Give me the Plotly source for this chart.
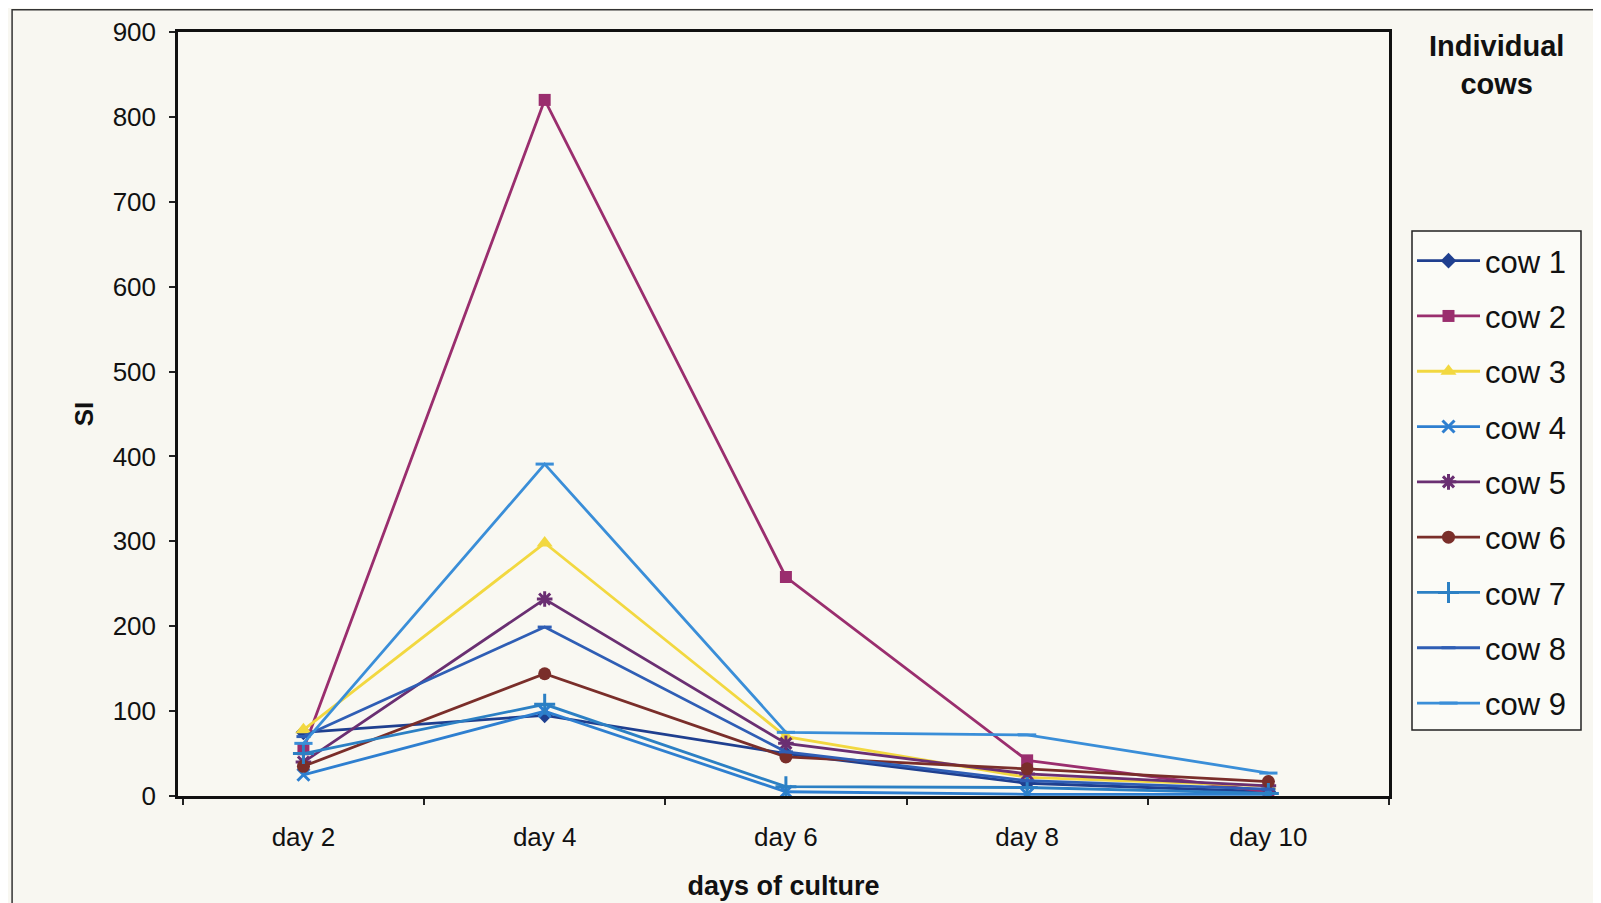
import plotly.graph_objects as go

days = ["day 2", "day 4", "day 6", "day 8", "day 10"]
cow_names = ["cow 1", "cow 2", "cow 3", "cow 4", "cow 5", "cow 6", "cow 7", "cow 8", "cow 9"]

cow1 = [75, 95, 50, 15, 5]
cow2 = [55, 820, 258, 42, 5]
cow3 = [78, 298, 70, 22, 12]
cow4 = [25, 100, 5, 2, 2]
cow5 = [40, 232, 62, 26, 12]
cow6 = [35, 144, 46, 32, 17]
cow7 = [50, 108, 11, 10, 3]
cow8 = [70, 199, 52, 18, 8]
cow9 = [62, 391, 75, 72, 27]

series = [cow1, cow2, cow3, cow4, cow5, cow6, cow7, cow8, cow9]
colors = ["#1F3F8F", "#9A2E6E", "#F2D840", "#2E7FD0", "#6A2F72",
          "#7A2E2A", "#2C80C4", "#2F5EB5", "#3A8ED8"]
symbols = ["diamond", "square", "triangle-up", "x-thin", "asterisk",
           "circle", "cross-thin", "line-ew", "line-ew"]
sizes = [12, 12, 14, 12, 13, 13, 15, 10, 13]

W, H = 1593, 895          # page body adds 8px margin on top/left
L, T, PW, PH = 170, 24, 1211, 764

def px(x):
    return (x - L) / PW

def py(y):
    return (T + PH - y) / PH

fig = go.Figure()
for i, (name, vals) in enumerate(zip(cow_names, series)):
    open_sym = symbols[i] in ("x-thin", "asterisk", "cross-thin", "line-ew")
    fig.add_trace(go.Scatter(
        x=days, y=vals, name=name, mode="lines+markers",
        legendgroup=name,
        line=dict(color=colors[i], width=2.8),
        marker=dict(symbol=symbols[i], size=sizes[i], color=colors[i],
                    line=dict(color=colors[i], width=3 if open_sym else 0)),
    ))

fig.update_layout(
    width=W, height=H,
    margin=dict(l=L, r=W - L - PW, t=T, b=H - T - PH, autoexpand=False),
    paper_bgcolor="#F8F7F1",
    plot_bgcolor="#F9F8F2",
    font=dict(family="Liberation Sans, Arial, sans-serif", size=26, color="#111111"),
    showlegend=True,
    legend=dict(
        xref="container", yref="container",
        x=1404 / W, y=1 - 722 / H, xanchor="left", yanchor="bottom",
        maxheight=600,
        bgcolor="rgba(0,0,0,0)", borderwidth=0,
        font=dict(size=31, color="#111111"),
        itemwidth=63, tracegroupgap=12,
    ),
    xaxis=dict(
        type="category", range=[-0.52, 4.5], automargin=False,
        tickson="boundaries", ticks="outside", ticklen=6, tickwidth=1.5,
        tickcolor="#222222", ticklabelstandoff=16,
        showline=True, linecolor="#111111", linewidth=2.5, mirror=True,
        showgrid=False, zeroline=False,
        tickfont=dict(size=26),
        title=dict(text="<b>days of culture</b>", font=dict(size=27), standoff=26),
    ),
    yaxis=dict(
        range=[0, 900], dtick=100, tick0=0, automargin=False,
        ticks="outside", ticklen=6, tickwidth=1.5, tickcolor="#222222",
        ticklabelstandoff=8,
        showline=True, linecolor="#111111", linewidth=2.5, mirror=True,
        showgrid=False, zeroline=False,
        tickfont=dict(size=26),
        title=dict(text="<b>SI</b>", font=dict(size=26), standoff=12),
    ),
    shapes=[
        dict(type="rect", xref="paper", yref="paper",
             x0=-0.137, x1=1.4, y0=-0.3, y1=1.029,
             line=dict(color="#333333", width=1.5), layer="below"),
        dict(type="rect", xref="paper", yref="paper",
             x0=px(1404), x1=px(1573), y0=py(722), y1=py(223),
             fillcolor="#FBFBF7",
             line=dict(color="#222222", width=1.5), layer="below"),
    ],
    annotations=[dict(text="<b>Individual<br>cows</b>", xref="paper", yref="paper",
                      x=px(1488), y=py(57),
                      xanchor="center", yanchor="middle", showarrow=False,
                      font=dict(size=29, color="#111111"), align="center")],
)

fig.write_html("out.html")
